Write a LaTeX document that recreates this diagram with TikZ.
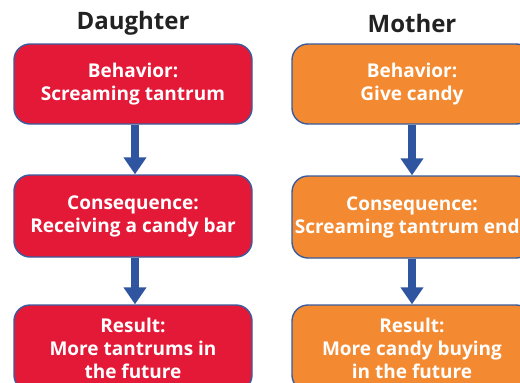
\documentclass[tikz,border=0pt]{standalone}
\usepackage{fontspec}
\setmainfont{Open Sans}
\usetikzlibrary{arrows.meta}
\definecolor{redfill}{HTML}{E31937}
\definecolor{orgfill}{HTML}{F38A31}
\definecolor{edgeblue}{HTML}{3A5C9E}
\definecolor{arrblue}{HTML}{2F55A0}
\definecolor{titlegray}{HTML}{222222}
\tikzset{
  x=1pt,y=-1pt,
  boxbase/.style={draw=edgeblue,line width=1.4pt,rounded corners=16pt,text=white,
    font=\fontsize{19}{23}\selectfont\bfseries,align=center,inner sep=0pt,
    minimum width=238pt},
  redbox/.style={boxbase,fill=redfill},
  orgbox/.style={boxbase,fill=orgfill},
  title/.style={font=\fontsize{24}{28}\selectfont\bfseries,text=titlegray,inner sep=0pt},
  flow/.style={draw=arrblue,line width=8pt,-{Triangle[width=22pt,length=17pt]}}
}
\begin{document}
\begin{tikzpicture}
\useasboundingbox (0,0) rectangle (520,383);
\clip (0,0) rectangle (520,383);
\fill[white] (0,0) rectangle (520,383);
\node[title] (td) at (133,23) {Daughter};
\node[title] (tm) at (412,23) {Mother};
\node[redbox,minimum height=80pt] (d1) at (133,84) {Behavior:\\Screaming tantrum};
\node[redbox,minimum height=82pt] (d2) at (133,216) {Consequence:\\Receiving a candy bar};
\node[redbox,minimum height=86pt] (d3) at (133,348) {Result:\\More tantrums in\\the future};
\node[orgbox,minimum width=240pt,minimum height=80pt] (m1) at (412,84) {Behavior:\\Give candy};
\node[orgbox,minimum width=240pt,minimum height=82pt] (m2) at (412,217) {Consequence:\\Screaming tantrum ends};
\node[orgbox,minimum width=240pt,minimum height=86pt] (m3) at (412,348) {Result:\\More candy buying\\in the future};
\draw[flow] ([xshift=2pt]d1.south) -- ([xshift=2pt]d2.north);
\draw[flow] ([xshift=2pt]d2.south) -- ([xshift=2pt]d3.north);
\draw[flow] (m1.south) -- (m2.north);
\draw[flow] (m2.south) -- (m3.north);
\end{tikzpicture}
\end{document}
